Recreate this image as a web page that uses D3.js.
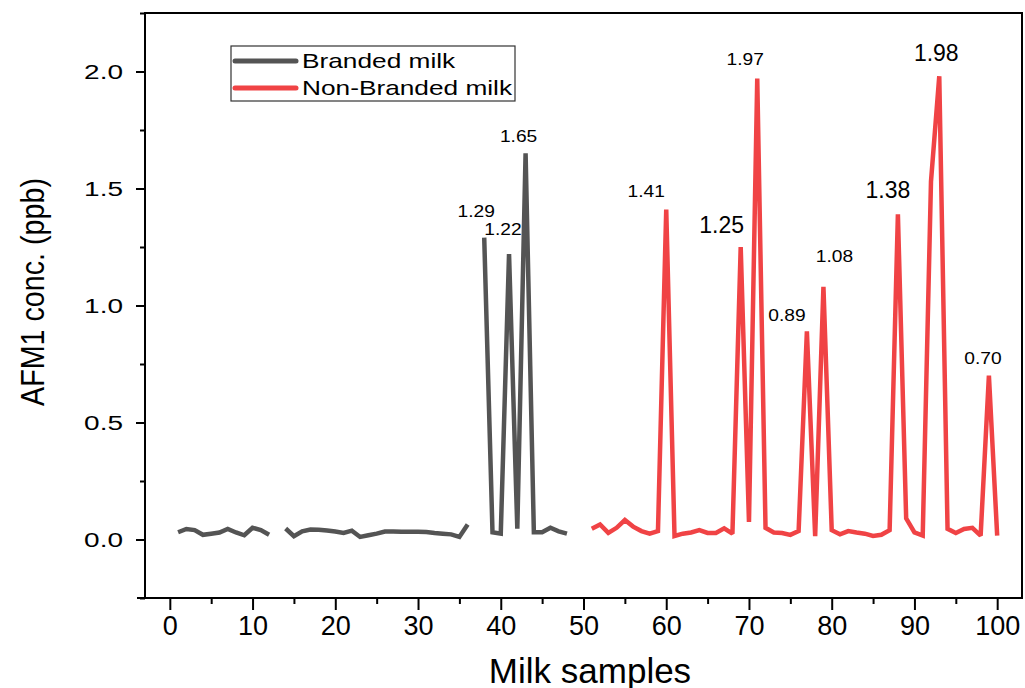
<!DOCTYPE html>
<html>
<head>
<meta charset="utf-8">
<script src="https://cdn.jsdelivr.net/npm/d3@7"></script>
<style>
  html, body { margin: 0; padding: 0; background: #fff; }
  svg { display: block; font-family: "Liberation Sans", Arial, sans-serif; }
</style>
</head>
<body>
<svg id="chart" width="1025" height="688"></svg>
<script>
// ---------------- data ----------------
const brandedSamples = d3.range(1, 49);            // 1..48
const brandedValues = [
  0.031, 0.045, 0.040, 0.020, 0.025, 0.030, 0.045, 0.030, 0.018, 0.050, 0.040, 0.020,
  null,
  0.047, 0.014, 0.035, 0.043, 0.042, 0.038, 0.034, 0.028, 0.038, 0.011, 0.018, 0.025,
  0.034, 0.034, 0.033, 0.033, 0.033, 0.032, 0.028, 0.025, 0.022, 0.011, 0.064,
  null,
  1.29, 0.031, 0.025, 1.22, 0.046, 1.65, 0.031, 0.031, 0.050, 0.035, 0.025
];
const nonBrandedSamples = d3.range(51, 101);       // 51..100
const nonBrandedValues = [
  0.046, 0.064, 0.028, 0.050, 0.083, 0.055, 0.036, 0.025, 0.036, 1.41,
  0.015, 0.025, 0.030, 0.040, 0.028, 0.028, 0.048, 0.025, 1.25, 0.075,
  1.97, 0.050, 0.030, 0.028, 0.020, 0.036, 0.89, 0.014, 1.08, 0.040,
  0.022, 0.036, 0.030, 0.025, 0.015, 0.020, 0.040, 1.39, 0.090, 0.030,
  0.017, 1.53, 1.98, 0.046, 0.028, 0.045, 0.050, 0.017, 0.70, 0.017
];
const seriesNames = ["Branded milk", "Non-Branded milk"];
const annotSamples = [38, 41, 43, 60, 69, 71, 77, 79, 88, 93, 99];
const annotLabels  = ["1.29", "1.22", "1.65", "1.41", "1.25", "1.97", "0.89", "1.08", "1.38", "1.98", "0.70"];
const xMajorTicks = d3.range(0, 101, 10);
const xMinorTicks = d3.range(5, 101, 10);
const yMajorTicks = [0, 0.5, 1.0, 1.5, 2.0];
const yMinorTicks = [-0.25, 0.25, 0.75, 1.25, 1.75, 2.25];

// ---------------- style / layout ----------------
const colors = ["#545454", "#f04345"];
const annotStyle = [ // dx, dy relative to the peak, font size, horizontal stretch
  {dx: -8,  dy: -21, fs: 16, sx: 1.2},
  {dx: -6,  dy: -19, fs: 16, sx: 1.2},
  {dx: -7,  dy: -11, fs: 16, sx: 1.2},
  {dx: -20, dy: -13, fs: 16, sx: 1.2},
  {dx: -19, dy: -14, fs: 23, sx: 1.0},
  {dx: -12, dy: -14, fs: 16, sx: 1.2},
  {dx: -20, dy: -10, fs: 16, sx: 1.2},
  {dx: 11,  dy: -25, fs: 16, sx: 1.2},
  {dx: -10, dy: -16, fs: 23, sx: 1.0},
  {dx: -3,  dy: -15, fs: 23, sx: 1.0},
  {dx: -6,  dy: -12, fs: 16, sx: 1.2}
];

const L = 145, R = 1022, T = 13, B = 598;
const svg = d3.select("#chart");
const x = d3.scaleLinear().domain([-3, 103]).range([L, R]);
const y = d3.scaleLinear().domain([-0.25, 2.25]).range([B, T]);

// frame
svg.append("rect").attr("x", L).attr("y", T).attr("width", R - L).attr("height", B - T)
  .attr("fill", "none").attr("stroke", "#000").attr("stroke-width", 2);
svg.append("line").attr("x1", L - 8).attr("x2", L).attr("y1", B).attr("y2", B)
  .attr("stroke", "#000").attr("stroke-width", 2);

// x axis
const gx = svg.append("g").attr("transform", `translate(0,${B})`);
gx.call(d3.axisBottom(x).tickValues(xMajorTicks).tickSize(12).tickPadding(6).tickFormat(d3.format("d")));
const gxm = svg.append("g").attr("transform", `translate(0,${B})`);
gxm.call(d3.axisBottom(x).tickValues(xMinorTicks).tickSize(6).tickFormat(""));
[gx, gxm].forEach(g => {
  g.select(".domain").remove();
  g.selectAll(".tick line").attr("stroke", "#000").attr("stroke-width", 2);
});
gx.selectAll(".tick text").attr("font-size", 27).attr("fill", "#000")
  .attr("font-family", "Liberation Sans, Arial, sans-serif").attr("dy", "0.71em");

// y axis
const gy = svg.append("g").attr("transform", `translate(${L},0)`);
gy.call(d3.axisLeft(y).tickValues(yMajorTicks).tickSize(9).tickFormat(d3.format(".1f")));
const gym = svg.append("g").attr("transform", `translate(${L},0)`);
gym.call(d3.axisLeft(y).tickValues(yMinorTicks).tickSize(5).tickFormat(""));
[gy, gym].forEach(g => {
  g.select(".domain").remove();
  g.selectAll(".tick line").attr("stroke", "#000").attr("stroke-width", 2);
});
gy.selectAll(".tick text").each(function () {
  const t = d3.select(this);
  t.attr("x", null).attr("dy", null).attr("text-anchor", "end")
   .attr("font-size", 20).attr("fill", "#000").attr("font-family", "Liberation Sans, Arial, sans-serif")
   .attr("transform", "translate(-22,7) scale(1.4,1)");
});

// axis titles
svg.append("text").attr("x", 590).attr("y", 683).attr("text-anchor", "middle")
  .attr("font-size", 35).attr("fill", "#000").text("Milk samples");
svg.append("text").attr("text-anchor", "middle")
  .attr("transform", "translate(44,292) rotate(-90) scale(0.87,1)")
  .attr("font-size", 33).attr("fill", "#000").text("AFM1 conc. (ppb)");

// lines
const line = d3.line().defined(d => d[1] !== null).x(d => x(d[0])).y(d => y(d[1]));
const brandedPts = brandedSamples.map((s, i) => [s, brandedValues[i]]);
const nonBrandedPts = nonBrandedSamples.map((s, i) => [s, nonBrandedValues[i]]);
[brandedPts, nonBrandedPts].forEach((pts, i) => {
  svg.append("path").datum(pts).attr("d", line).attr("fill", "none")
    .attr("stroke", colors[i]).attr("stroke-width", 4.5).attr("stroke-linejoin", "miter")
    .attr("stroke-miterlimit", 2);
});

// annotations
const valueAt = s => s <= 48 ? brandedValues[s - 1] : nonBrandedValues[s - 51];
annotSamples.forEach((s, i) => {
  const st = annotStyle[i];
  svg.append("text").attr("text-anchor", "middle").attr("font-size", st.fs).attr("fill", "#000")
    .attr("transform", `translate(${x(s) + st.dx},${y(valueAt(s)) + st.dy}) scale(${st.sx},1)`)
    .text(annotLabels[i]);
});

// legend
const lg = svg.append("g");
lg.append("rect").attr("x", 231).attr("y", 46).attr("width", 284).attr("height", 55)
  .attr("fill", "#fff").attr("stroke", "#333").attr("stroke-width", 1.2);
seriesNames.forEach((name, i) => {
  const yy = 61 + i * 27;
  lg.append("line").attr("x1", 235).attr("x2", 296).attr("y1", yy).attr("y2", yy)
    .attr("stroke", colors[i]).attr("stroke-width", 5).attr("stroke-linecap", "round");
  lg.append("text").attr("font-size", 21).attr("fill", "#000")
    .attr("transform", `translate(302,${yy + 7}) scale(1.25,1)`).text(name);
});
</script>
</body>
</html>
